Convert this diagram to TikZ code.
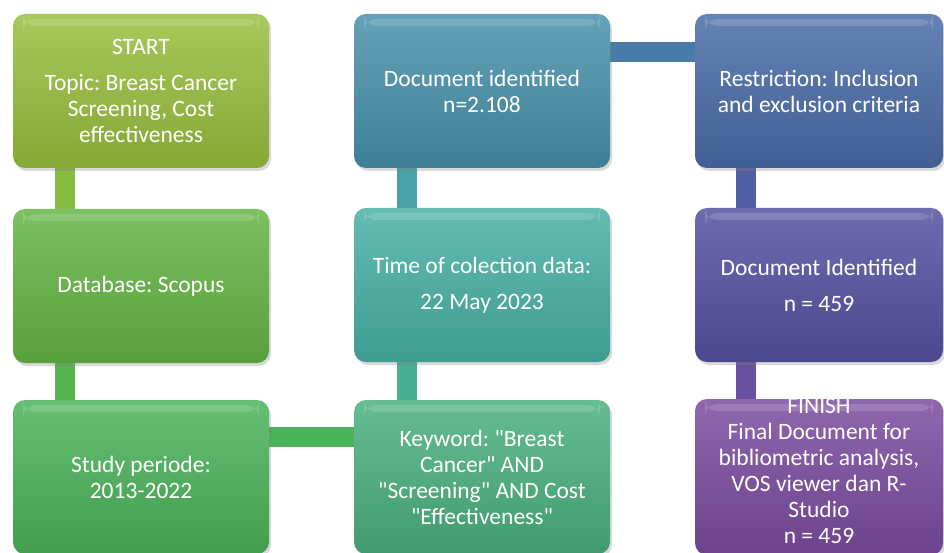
\documentclass[tikz,border=0pt]{standalone}
\usepackage{fontspec}
\setmainfont{Carlito}[Ligatures=TeXOff]
\usepackage{xcolor}
\usepackage{tikz}
\usetikzlibrary{shadows,backgrounds}
\frenchspacing

\definecolor{cST}{HTML}{98BF3E}
\definecolor{cDB}{HTML}{64B545}
\definecolor{cSP}{HTML}{4BB35A}
\definecolor{cKW}{HTML}{4BB07F}
\definecolor{cTC}{HTML}{48B0A5}
\definecolor{cDI}{HTML}{4891AA}
\definecolor{cRE}{HTML}{4A6CA8}
\definecolor{cDN}{HTML}{5651A1}
\definecolor{cFI}{HTML}{7B4C9F}
\newcommand{\stagefont}{\fontsize{23.5}{26}\selectfont}

\tikzset{
	stage/.style={rounded corners=12pt, minimum width=256pt, minimum height=154pt,
		inner sep=0pt, align=center, text=white, font=\stagefont,
		top color=#1!85!white, bottom color=#1!88!black,
		drop shadow={opacity=.3, shadow xshift=2pt, shadow yshift=-3pt},
		path picture={\fill[white,opacity=.15] ([xshift=10pt,yshift=-5pt]path picture bounding box.north west) rectangle ([xshift=-10pt,yshift=-12pt]path picture bounding box.north east);}},
	link/.style={line width=20pt, draw=#1},
}

\begin{document}
\begin{tikzpicture}[x=1pt,y=-1pt]
		\useasboundingbox (0,0) rectangle (944,553);
		\node[stage=cST] (ST) at (141,91) {START\\[10pt]Topic: Breast Cancer\\Screening, Cost\\effectiveness};
		\node[stage=cDB] (DB) at (141,286) {Database: Scopus};
		\node[stage=cSP] (SP) at (141,477) {Study periode:\\2013-2022};
		\node[stage=cKW] (KW) at (482,477) {Keyword: "Breast\\Cancer" AND\\"Screening" AND Cost\\"Effectiveness"};
		\node[stage=cTC] (TC) at (482,285) {Time of colection data:\\[10pt]22 May 2023};
		\node[stage=cDI] (DI) at (482,91) {Document identified\\n=2.108};
		\node[stage=cRE, minimum width=248pt] (RE) at (819,91) {Restriction: Inclusion\\and exclusion criteria};
		\node[stage=cDN, minimum width=248pt] (DN) at (819,285) {Document Identified\\[10pt]n = 459};
		\node[stage=cFI, minimum width=248pt] (FI) at (819,477) {\raisebox{4pt}[\height][\depth]{\begin{tabular}{@{}c@{}}FINISH\\Final Document for\\bibliometric analysis,\\VOS viewer dan R-\\Studio\\n = 459\end{tabular}}};
		%
		\begin{scope}[on background layer]
		\path
		([xshift=52pt]ST.south west) edge[link=cST!70!cDB] ([xshift=52pt]DB.north west)
		([xshift=52pt]DB.south west) edge[link=cDB!50!cSP] ([xshift=52pt]SP.north west)
		([yshift=-37pt]SP.north east) edge[link=cSP] ([yshift=-37pt]KW.north west)
		([xshift=53pt]KW.north west) edge[link=cKW!50!cTC] ([xshift=53pt]TC.south west)
		([xshift=53pt]TC.north west) edge[link=cTC!50!cDI] ([xshift=53pt]DI.south west)
		([yshift=-38pt]DI.north east) edge[link=cDI!40!cRE] ([yshift=-38pt]RE.north west)
		([xshift=51pt]RE.south west) edge[link=cRE!50!cDN] ([xshift=51pt]DN.north west)
		([xshift=51pt]DN.south west) edge[link=cDN!50!cFI] ([xshift=51pt]FI.north west);
		\end{scope}
\end{tikzpicture}
\end{document}
